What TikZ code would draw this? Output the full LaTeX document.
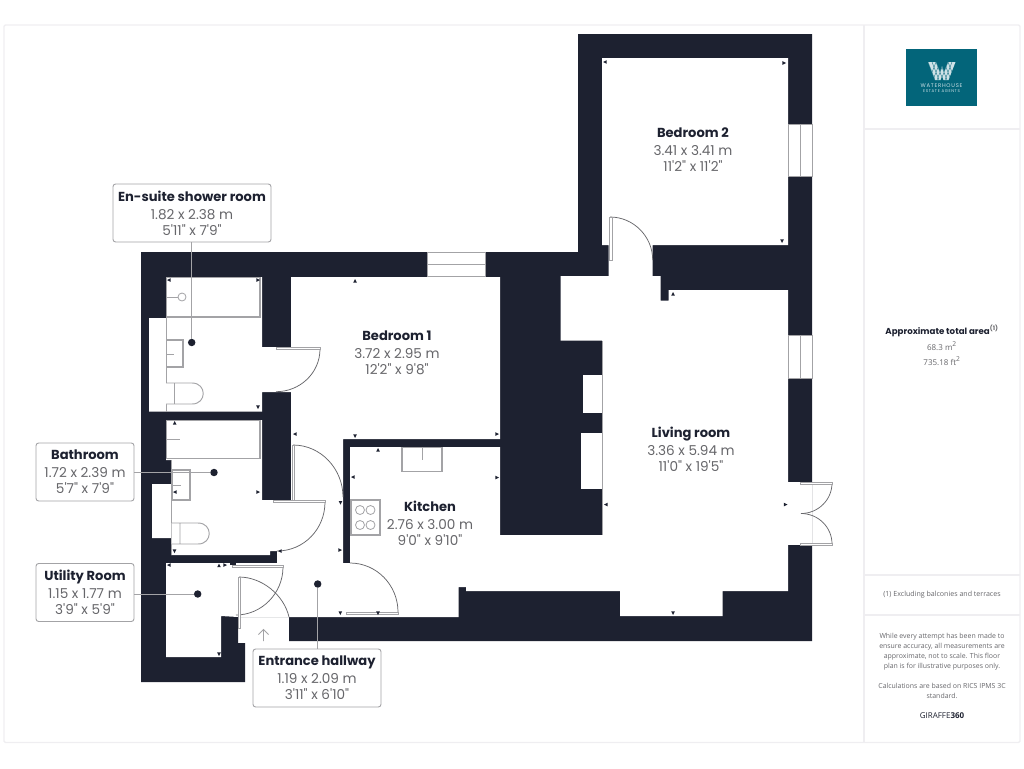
\documentclass[tikz,border=0pt]{standalone}
\usepackage{fontspec}
\newfontfamily\roomfont{Poppins}
\newfontfamily\panelfont{Open Sans}
\definecolor{wallc}{HTML}{1D2130}
\definecolor{linec}{HTML}{A3A3A6}
\definecolor{framec}{HTML}{EFEEF1}
\definecolor{dimc}{HTML}{66666A}
\definecolor{logoc}{HTML}{03657A}
\definecolor{logow}{HTML}{CFE2E7}
\newcommand{\roomtext}[3]{{\fontsize{9.8}{12}\selectfont\bfseries\color{wallc}#1}\\[1.5pt]#2\\#3}
\begin{document}
\begin{tikzpicture}[x=0.75pt,y=-0.75pt,
      wall/.style={fill=wallc},
      room/.style={fill=white},
      fixture/.style={draw=linec,line width=1pt,fill=white},
      thin line/.style={draw=linec,line width=0.7pt},
      swing/.style={draw=dimc,line width=0.55pt},
      label/.style={font=\roomfont\fontsize{10.2}{12}\selectfont,text=dimc,align=center,inner sep=0pt},
      callout/.style={label,draw=linec,line width=0.7pt,fill=white,rounded corners=2pt,minimum height=43.5pt},
      pin/.style={circle,fill=wallc,inner sep=0pt,minimum size=5.6pt},
      panel/.style={font=\panelfont\fontsize{5.2}{7.5}\selectfont,text=dimc,align=center,inner sep=0pt}]
      \useasboundingbox (0,0) rectangle (1024,768);
      \draw[framec,line width=1.1pt,rounded corners=1pt] (4,25) rectangle (1020,742.5);
      \draw[framec,line width=1.1pt] (864,25) -- (864,742.5) (864,129) -- (1020,129)
        (864,575) -- (1020,575) (864,615) -- (1020,615);
      % walls
      \fill[wall] (141,252) -- (578,252) -- (578,34) -- (812,34) -- (812,641) -- (289,641) -- (289,617)
        -- (238,617) -- (238,643) -- (245,643) -- (245,682) -- (141,682) -- cycle;
      % rooms
      \fill[room] (291,277) -- (500,277) -- (500,439) -- (343,439) -- (343,563) -- (350,563) -- (350,447)
        -- (500,447) -- (500,535) -- (602,535) -- (602,340.7) -- (560.7,340.7) -- (560.7,276) -- (608.7,276)
        -- (608.7,245) -- (602,245) -- (602,58) -- (788,58) -- (788,245) -- (652.7,245) -- (652.7,276)
        -- (660.7,276) -- (660.7,300.5) -- (668.7,300.5) -- (668.7,290) -- (788,290) -- (788,591)
        -- (722.7,591) -- (722.7,616) -- (620,616) -- (620,591) -- (466,591) -- (466,587) -- (458.5,587)
        -- (458.5,617) -- (289,617) -- (238,617) -- (221,616) -- (221,657) -- (166,657) -- (166,563)
        -- (277,563) -- (277,551) -- (291,551) -- cycle;
      \fill[room] (166,277) -- (262,277) -- (262,347) -- (291,347) -- (291,392) -- (262,392) -- (262,411.5)
        -- (149,411.5) -- (149,318) -- (166,318) -- cycle;
      \fill[room] (166,420) -- (262,420) -- (262,500) -- (291,500) -- (291,551) -- (270,551) -- (270,555)
        -- (171,555) -- (171,538) -- (152,538) -- (152,484) -- (171,484) -- (171,460) -- (166,460) -- cycle;
      \fill[room] (583,375) rectangle (602,413);
      \fill[room] (580.7,433) rectangle (602,489);
      \fill[room] (788,482) rectangle (812,545);
      \fill[wall] (230,563) rectangle (236,565);
      % windows
      \foreach \xa/\ya/\xb/\yb in {427/252/485/276,788/124.5/812/176,788/335/812/378}
        \filldraw[fixture,line width=0.7pt] (\xa,\ya) rectangle (\xb,\yb);
      \draw[thin line] (427,264) -- (485,264) (800,124.5) -- (800,176) (800,335) -- (800,378);
      \draw[thin line] (602,340.7) -- (602,535) (166,318) -- (166,411.5) (171,460) -- (171,555);
      % bathroom fittings
      \draw[fixture] (166.5,277.5) rectangle (260,317);
      \draw[fixture,line width=0.6pt] (182,297) circle[radius=4];
      \draw[thin line] (166.5,297) -- (178,297);
      \draw[fixture] (166.5,340) rectangle (183,367);
      \draw[thin line] (166.5,354) -- (174,354);
      \draw[thin line,fill=white] (166,383) -- (192,383) .. controls (207,383) and (207,404) .. (192,404) -- (166,404) (174.5,383) -- (174.5,404);
      \draw[fixture] (166.5,420.5) rectangle (260,458.5);
      \draw[thin line] (166.5,439) -- (180,439);
      \draw[fixture] (172,470) rectangle (190,500);
      \draw[thin line] (172,485) -- (181,485);
      \draw[thin line,fill=white] (171.5,523) -- (198,523) .. controls (213,523) and (213,544) .. (198,544) -- (171.5,544) (180,523) -- (180,544);
      % kitchen fittings
      \draw[fixture] (402,447.5) rectangle (442,471.5);
      \draw[thin line] (422,448) -- (422,460);
      \draw[fixture] (351,500) rectangle (380,535);
      \foreach \x in {360,370.5} \foreach \y in {510,525}
        \draw[thin line,line width=0.6pt] (\x,\y) circle[radius=4.5];
      % doors
      \draw[swing] (320,349) .. controls (320,373) and (300,391.7) .. (276,391.7);
      \draw[swing] (325,502) .. controls (325,529) and (304,551) .. (277,551);
      \draw[swing] (293,445) .. controls (321,445) and (343,469) .. (343,497);
      \draw[swing] (283,567) .. controls (283,593.5) and (261.5,615) .. (236,615);
      \draw[swing] (239,577) .. controls (262,577) and (284,595) .. (289,617);
      \draw[swing] (350,563) .. controls (376.5,563) and (398,585) .. (398,612);
      \draw[swing] (610,217) .. controls (633.5,217) and (652.7,236.5) .. (652.7,260);
      \draw[swing] (801,513.5) .. controls (818,513.5) and (832,500) .. (832,483);
      \draw[swing] (801,513.5) .. controls (818,513.5) and (832,527) .. (832,544);
      \foreach \xa/\ya/\xb/\yb in {276/347/320/349,273/500/325/502.5,292/445/294.5/500,232/565/283/567.5,
          238/577/240.5/628,346/612/398/614.5,609/217/612/260.7,800/482/832/484,800/543/832/545}
        \draw[fixture,line width=0.7pt] (\xa,\ya) rectangle (\xb,\yb);
      % small marks
      \foreach \x/\y in {169/280,295/434,175/492,280/551,169/565,353/477,606/504.5,605/62}
        \fill[wallc] (\x-2,\y) -- (\x+1.6,\y-1.8) -- (\x+1.6,\y+1.8) -- cycle;
      \foreach \x/\y in {258/280,258/492,225/565,340/550,497/434,497/477.5,785.5/504.5,784/63}
        \fill[wallc] (\x+2,\y) -- (\x-1.6,\y-1.8) -- (\x-1.6,\y+1.8) -- cycle;
      \foreach \x/\y in {258/407,174.5/551,340.5/502.7,340.3/613,378/613,219/654,355/436,673/613,782/241}
        \fill[wallc] (\x,\y+2) -- (\x-1.8,\y-1.6) -- (\x+1.8,\y-1.6) -- cycle;
      \foreach \x/\y in {174.7/423,219/565.6,378/450,673/294,355/281}
        \fill[wallc] (\x,\y-2) -- (\x-1.8,\y+1.6) -- (\x+1.8,\y+1.6) -- cycle;
      % entrance arrow
      \draw[thin line] (263.5,641) -- (263.5,629.5) (258.5,634.5) -- (263.5,629.5) -- (268.5,634.5);
      % room labels
      \node (bedroomTwo) [label] at (693,149.5) {\roomtext{Bedroom 2}{3.41 x 3.41 m}{11'2" x 11'2"}};
      \node (bedroomOne) [label] at (397,352.5) {\roomtext{Bedroom 1}{3.72 x 2.95 m}{12'2" x 9'8"}};
      \node (livingRoom) [label] at (691,449) {\roomtext{Living room}{3.36 x 5.94 m}{11'0" x 19'5"}};
      \node (kitchen) [label] at (430,523) {\roomtext{Kitchen}{2.76 x 3.00 m}{9'0" x 9'10"}};
      % callouts
      \node (ensuiteDot) [pin] at (191.7,342.5) {};
      \node (bathroomDot) [pin] at (214,472.5) {};
      \node (utilityDot) [pin] at (197.7,594) {};
      \node (hallwayDot) [pin] at (317.7,584) {};
      \node (ensuiteBox) [callout,minimum width=118.5pt] at (192,213) {\roomtext{En-suite shower room}{1.82 x 2.38 m}{5'11" x 7'9"}};
      \node (bathroomBox) [callout,minimum width=73.5pt] at (85,472) {\roomtext{Bathroom}{1.72 x 2.39 m}{5'7" x 7'9"}};
      \node (utilityBox) [callout,minimum width=73.5pt] at (85,592.5) {\roomtext{Utility Room}{1.15 x 1.77 m}{3'9" x 5'9"}};
      \node (hallwayBox) [callout,minimum width=96pt] at (317,678) {\roomtext{Entrance hallway}{1.19 x 2.09 m}{3'11" x 6'10"}};
      \draw[thin line] (ensuiteBox.south -| ensuiteDot) -- (ensuiteDot);
      \draw[thin line] (bathroomBox.east |- bathroomDot) -- (bathroomDot);
      \draw[thin line] (utilityBox.east |- utilityDot) -- (utilityDot);
      \draw[thin line] (hallwayBox.north -| hallwayDot) -- (hallwayDot);
      % logo
      \fill[logoc] (905.7,48.7) rectangle (977,105.7);
      \begin{scope}
        \clip (928,62) -- (936,62) -- (940,72) -- (942,66) -- (944,72) -- (948,62) -- (955.5,62) -- (948.5,80) -- (943.5,80) -- (942,76) -- (940.5,80) -- (935,80) -- cycle;
        \fill[logow] (925,60) rectangle (958,82);
        \foreach \x in {932,936,940,944,948,952}
          \draw[logoc,line width=0.25pt] (\x-4,62) -- (\x+3,80) (\x+4,62) -- (\x-3,80);
      \end{scope}
      \node (logoName) [inner sep=0pt,text=logow,font=\roomfont\fontsize{4}{5}\selectfont\addfontfeature{LetterSpace=14}] at (941.5,85.5) {WATERHOUSE};
      \node (logoSub) [inner sep=0pt,text=logow,font=\roomfont\fontsize{3}{4}\selectfont\addfontfeature{LetterSpace=16}] at (941.5,91) {ESTATE AGENTS};
      % side panel
      \node (areaTitle) [inner sep=0pt,text=wallc,font=\roomfont\bfseries\fontsize{6.5}{8}\selectfont] at (942,331) {Approximate total area\textsuperscript{\color{dimc}(1)}};
      \node (areaValues) [panel,font=\panelfont\fontsize{6}{11.2}\selectfont] at (942,353.5) {68.3 m\textsuperscript{2}\\735.18 ft\textsuperscript{2}};
      \node (panelNote) [panel,font=\panelfont\fontsize{5.3}{7}\selectfont] at (942,595) {(1) Excluding balconies and terraces};
      \node (panelText) [panel] at (942,665.5) {While every attempt has been made to\\ensure accuracy, all measurements are\\approximate, not to scale. This floor\\plan is for illustrative purposes only.\\[7.6pt]Calculations are based on RICS IPMS 3C\\standard.};
      \node (panelBrand) [inner sep=0pt,text=wallc,font=\panelfont\fontsize{6}{7}\selectfont] at (942,716) {GIRAFFE\textbf{360}};
\end{tikzpicture}
\end{document}
